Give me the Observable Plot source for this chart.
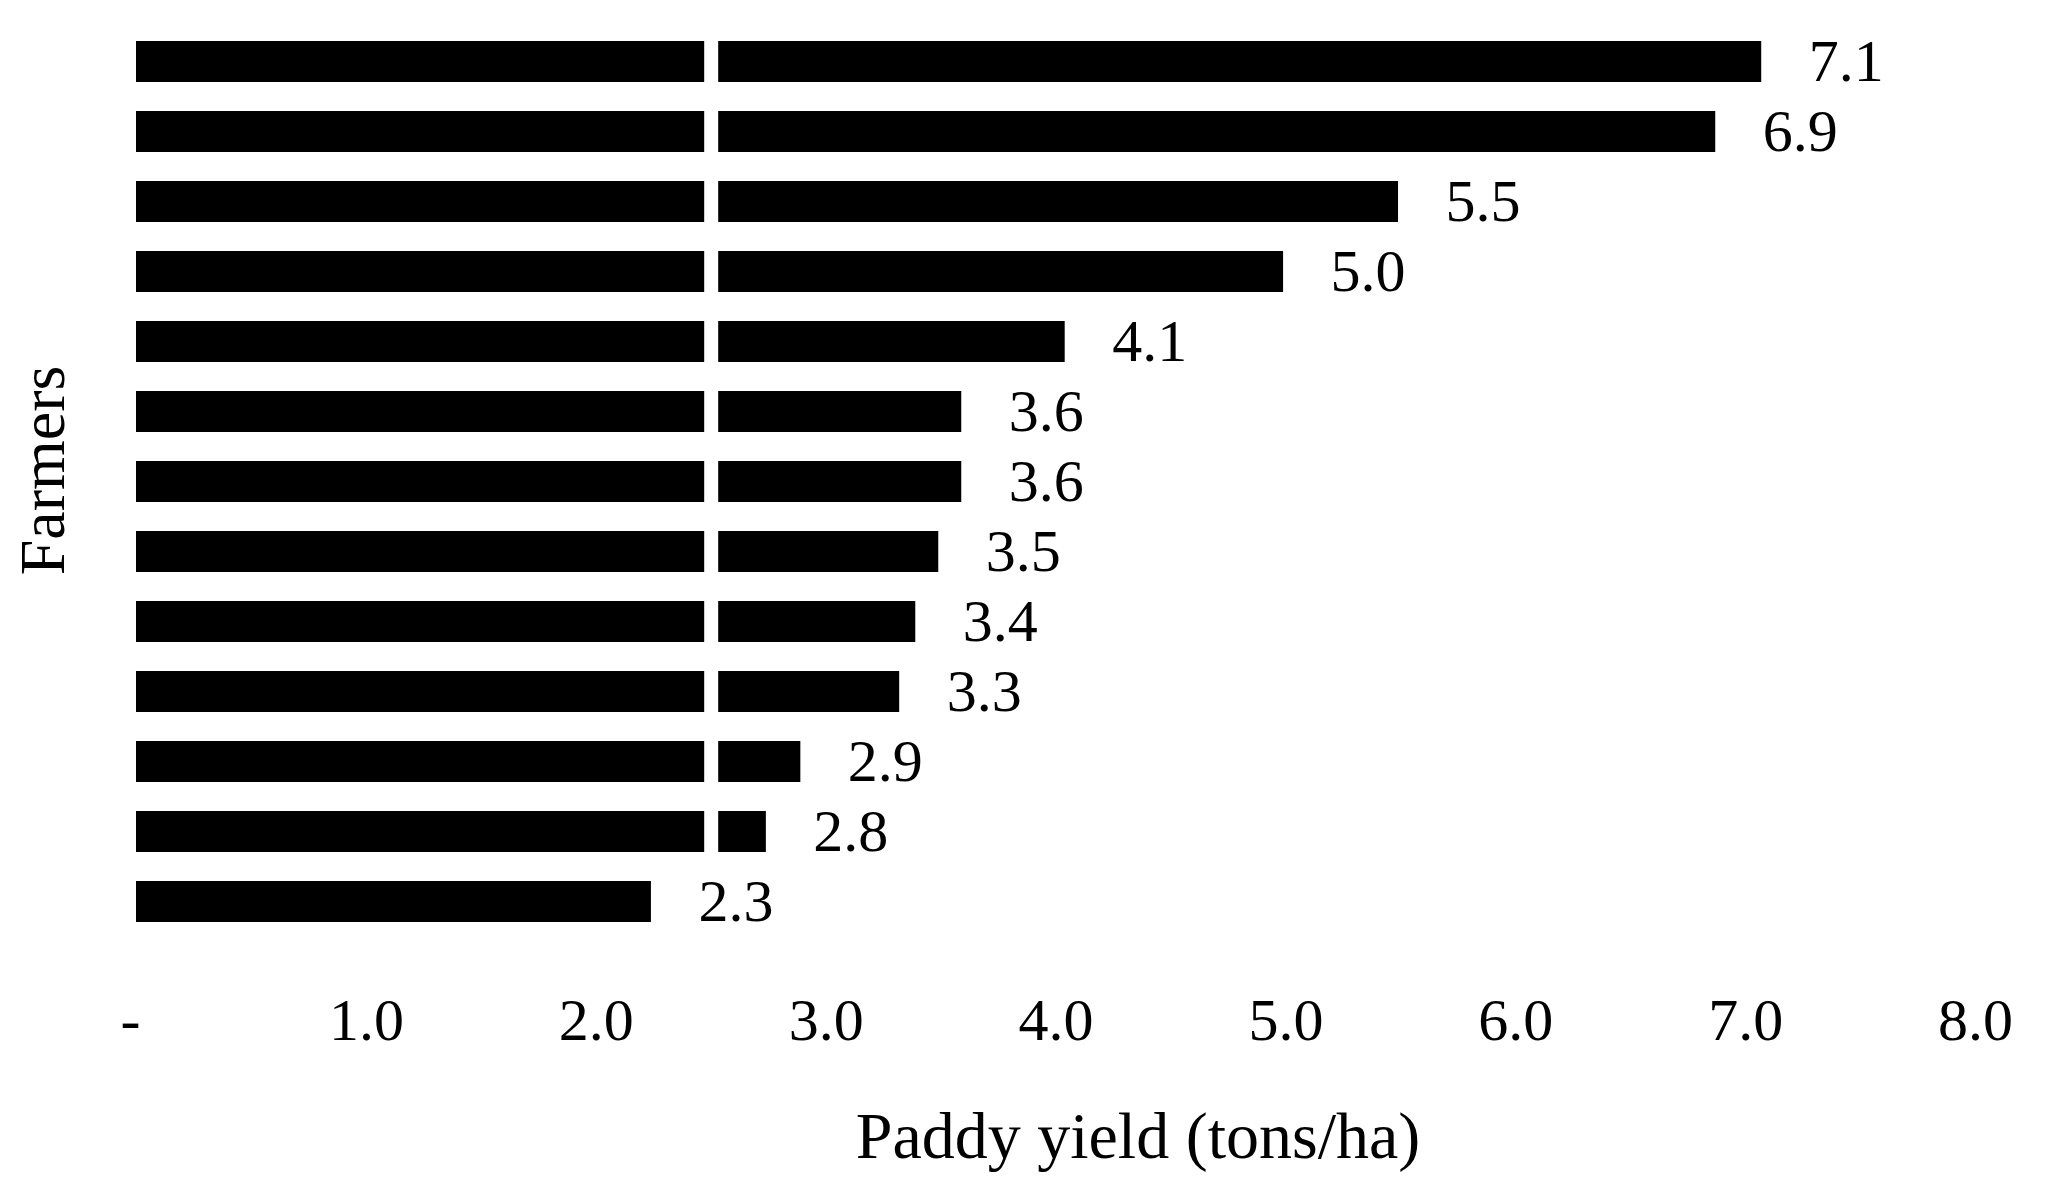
<!DOCTYPE html>
<html>
<head>
<meta charset="utf-8">
<script src="https://cdn.jsdelivr.net/npm/d3@7"></script>
<script src="https://cdn.jsdelivr.net/npm/@observablehq/plot@0.6"></script>
<style>
  html, body { margin: 0; padding: 0; background: #fff; }
  #chart svg { display: block; }
</style>
</head>
<body>
<div id="chart"></div>
<script>
// Data
const farmers = ["F1","F2","F3","F4","F5","F6","F7","F8","F9","F10","F11","F12","F13"];
const yields = [7.07, 6.87, 5.49, 4.99, 4.04, 3.59, 3.59, 3.49, 3.39, 3.32, 2.89, 2.74, 2.24];
const yieldLabels = ["7.1","6.9","5.5","5.0","4.1","3.6","3.6","3.5","3.4","3.3","2.9","2.8","2.3"];
const xTicks = [0, 1, 2, 3, 4, 5, 6, 7, 8];
const xTickLabels = ["-\u2009", "1.0", "2.0", "3.0", "4.0", "5.0", "6.0", "7.0", "8.0"];
const gapAt = [2.5];
const xTitle = "Paddy yield (tons/ha)";
const yTitle = "Farmers";

const data = farmers.map((f, i) => ({farmer: f, value: yields[i], label: yieldLabels[i]}));

const chart = Plot.plot({
  width: 2048,
  height: 1188,
  marginLeft: 136,
  marginRight: 73,
  marginTop: 10,
  marginBottom: 236,
  style: {fontFamily: "'Liberation Serif', serif", fontSize: "60px", background: "#fff", color: "#000"},
  x: {domain: [0, 8]},
  y: {domain: farmers, padding: 0.42, axis: null},
  marks: [
    Plot.barX(data, {x: "value", y: "farmer", fill: "#000"}),
    Plot.ruleX(gapAt, {stroke: "#fff", strokeWidth: 14}),
    Plot.text(data, {x: "value", y: "farmer", text: "label", dx: 47, textAnchor: "start", fontSize: 60, fill: "#000"}),
    Plot.axisX({
      ticks: xTicks,
      tickSize: 0,
      tickPadding: 45,
      tickFormat: (d) => xTickLabels[xTicks.indexOf(d)],
      fontSize: 60,
      label: null
    }),
    Plot.text([xTitle], {frameAnchor: "bottom", textAnchor: "middle", dx: 82, dy: 184, fontSize: 66, lineAnchor: "middle", fill: "#000"}),
    Plot.text([yTitle], {frameAnchor: "left", textAnchor: "middle", rotate: -90, dx: -93, dy: -11, fontSize: 64, lineAnchor: "middle", fill: "#000"})
  ]
});
document.getElementById("chart").appendChild(chart);
</script>
</body>
</html>
